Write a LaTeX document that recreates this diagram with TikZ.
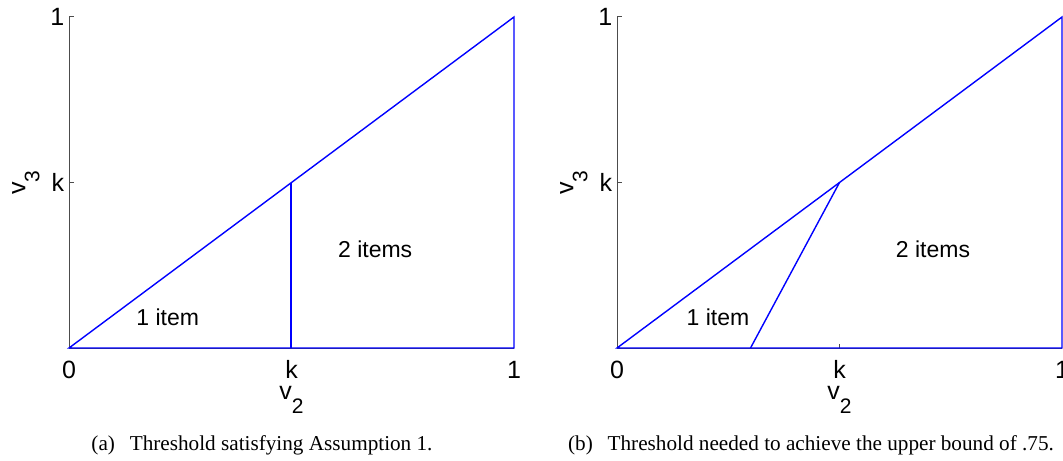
\documentclass[tikz,border=0pt]{standalone}
\usepackage{fontspec}
\setmainfont{Liberation Serif}
\newfontfamily\plotfont{Liberation Sans}
\begin{document}
\begin{tikzpicture}[
x=0.5pt,y=-0.5pt,
axisline/.style={black!70, line width=0.5pt},
curve/.style={blue, line width=0.7pt},
ticklabel/.style={font=\plotfont\fontsize{12.5}{14}\selectfont, inner sep=0pt},
region/.style={font=\plotfont\fontsize{11.5}{13}\selectfont, inner sep=0pt},
caption/.style={font=\fontsize{10.6}{12}\selectfont, inner sep=0pt, anchor=base}
]
\useasboundingbox (0,0) rectangle (1063,460);

% =======================
% LEFT PANEL (ASSUMPTION 1)
% =======================

\begin{scope}[shift={(69,348)}, x=222.5pt, y=165.5pt]
\draw[axisline] (0,1) -- (0,0) -- (1,0);
\draw[axisline] (0,1) -- ++(2.5pt,0);
\draw[axisline] (0,0.5) -- ++(2.5pt,0);

\draw[curve] (0,0) -- (1,1) -- (1,0) -- cycle;
\draw[curve] (0.499,0) -- (0.499,0.499);

\node[ticklabel, anchor=east] (ay1) at (-0.01,1) {1};
\node[ticklabel, anchor=east] (ayk) at (-0.01,0.5) {k};
\node[ticklabel, rotate=90] (aylab) at (-0.097,0.5) {v\raisebox{-7pt}{\fontsize{10.5}{12}\selectfont 3}};

\node[ticklabel, anchor=base, yshift=-15pt] (ax0) at (0,0) {0};
\node[ticklabel, anchor=base, yshift=-15pt] (axk) at (0.5,0) {k};
\node[ticklabel, anchor=base, yshift=-15pt] (ax1) at (1,0) {1};
\node[ticklabel, anchor=base, yshift=-25.5pt] (axlab) at (0.5,0) {v\raisebox{-7pt}{\fontsize{10.5}{12}\selectfont 2}};

\node[region] (aone) at (0.222,0.094) {1 item};
\node[region] (atwo) at (0.688,0.299) {2 items};
\end{scope}

% =======================
% RIGHT PANEL (UPPER BOUND)
% =======================

\begin{scope}[shift={(617,348)}, x=222.5pt, y=165.5pt]
\draw[axisline] (0,1) -- (0,0) -- (1,0);
\draw[axisline] (0,1) -- ++(2.5pt,0);
\draw[axisline] (0,0.5) -- ++(2.5pt,0);
\draw[axisline] (0.5,0) -- ++(0,2pt);

\draw[curve] (0,0) -- (1,1) -- (1,0) -- cycle;
\draw[curve] (0.3,0) -- (0.5,0.5);

\node[ticklabel, anchor=east] (by1) at (-0.01,1) {1};
\node[ticklabel, anchor=east] (byk) at (-0.01,0.5) {k};
\node[ticklabel, rotate=90] (bylab) at (-0.097,0.5) {v\raisebox{-7pt}{\fontsize{10.5}{12}\selectfont 3}};

\node[ticklabel, anchor=base, yshift=-15pt] (bx0) at (0,0) {0};
\node[ticklabel, anchor=base, yshift=-15pt] (bxk) at (0.5,0) {k};
\node[ticklabel, anchor=base, yshift=-15pt] (bx1) at (1,0) {1};
\node[ticklabel, anchor=base, yshift=-25.5pt] (bxlab) at (0.5,0) {v\raisebox{-7pt}{\fontsize{10.5}{12}\selectfont 2}};

\node[region] (bone) at (0.227,0.094) {1 item};
\node[region] (btwo) at (0.710,0.299) {2 items};
\end{scope}

% =======================
% CAPTIONS
% =======================

\node[caption] (capa) at (262,450) {(a)\hspace{0.7em}Threshold satisfying Assumption 1.};
\node[caption] (capb) at (811,450) {(b)\hspace{0.7em}Threshold needed to achieve the upper bound of .75.};

\end{tikzpicture}
\end{document}
